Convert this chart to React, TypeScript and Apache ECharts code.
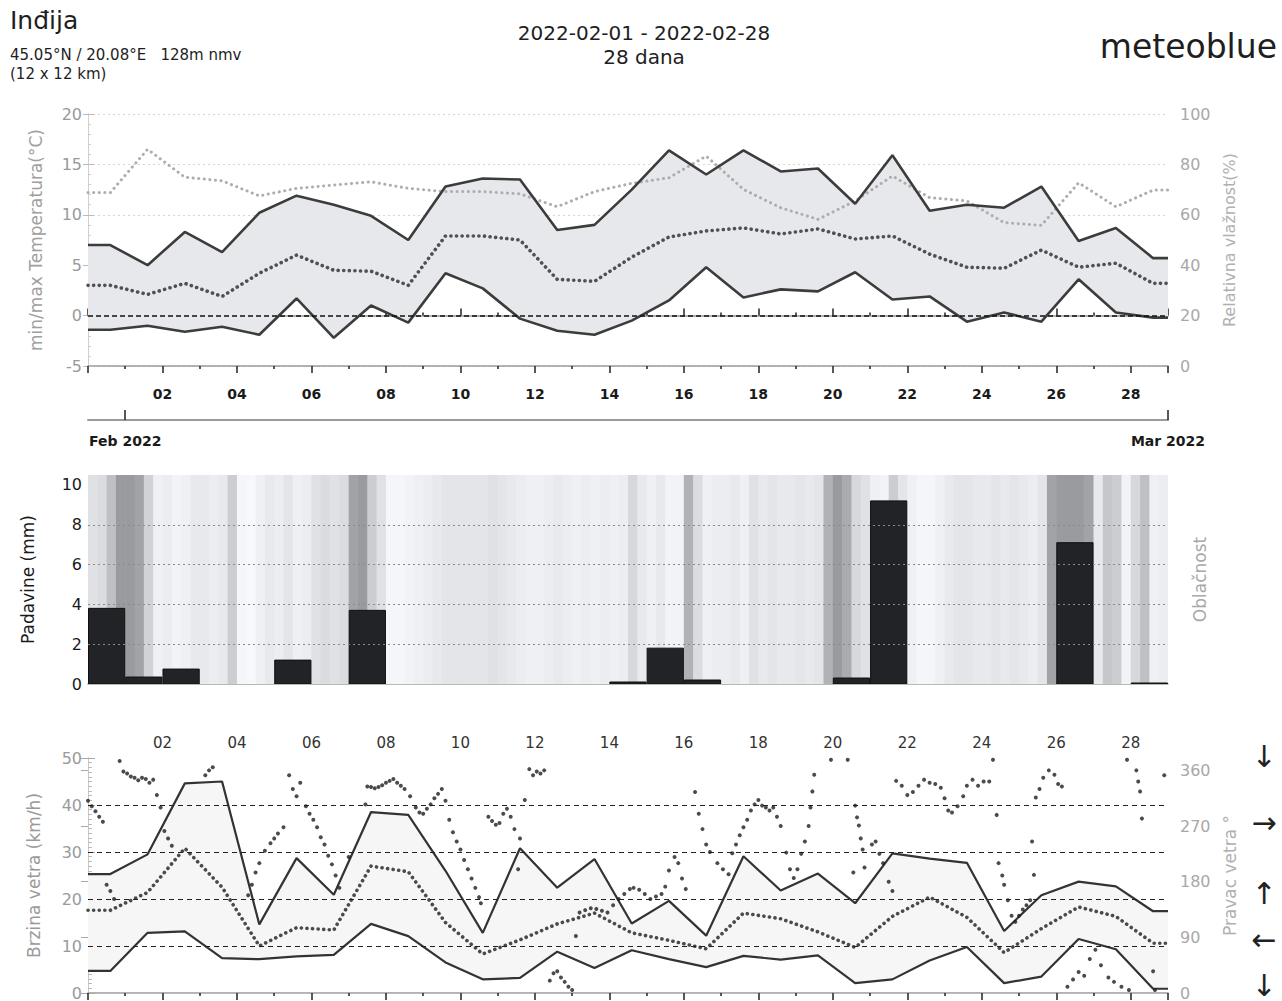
import React, { useEffect, useRef } from "react";
import * as echarts from "echarts";

// ---------- DATA ----------
// daily samples, index k = 0..28 ; drawn at day k + SAMPLE_OFFSET on a 0..29 day axis
const SAMPLE_OFFSET = 0.6;
const X_MIN = 0;
const X_MAX = 29;
const dayLabels = ["02","04","06","08","10","12","14","16","18","20","22","24","26","28"];

const tempMax = [7.0, 5.0, 8.3, 6.3, 10.2, 11.9, 11.0, 9.9, 7.5, 12.8, 13.6, 13.5, 8.5, 9.0, 12.5, 16.4, 14.0, 16.4, 14.3, 14.6, 11.1, 15.9, 10.4, 11.0, 10.7, 12.8, 7.4, 8.7, 5.7];
const tempMin = [-1.4, -1.0, -1.6, -1.1, -1.9, 1.7, -2.2, 1.0, -0.7, 4.2, 2.7, -0.3, -1.5, -1.9, -0.5, 1.5, 4.8, 1.8, 2.6, 2.4, 4.3, 1.6, 1.9, -0.6, 0.3, -0.6, 3.6, 0.3, -0.2];
const tempMean = [3.0, 2.1, 3.2, 1.9, 4.2, 6.0, 4.5, 4.4, 3.0, 7.9, 7.9, 7.5, 3.6, 3.4, 5.8, 7.8, 8.4, 8.7, 8.1, 8.6, 7.6, 7.9, 6.1, 4.8, 4.7, 6.5, 4.8, 5.2, 3.2];
const humidity = [68.8, 86.0, 74.9, 73.5, 67.5, 70.5, 71.8, 73.1, 70.5, 69.2, 69.2, 68.3, 63.2, 69.2, 72.5, 74.7, 83.3, 70.1, 62.8, 58.2, 65.5, 75.4, 66.8, 65.5, 56.9, 55.8, 72.7, 63.2, 69.8];

// precipitation per day (bar k spans day k .. k+1), mm
const precipitation = [3.8, 0.35, 0.75, 0, 0, 1.2, 0, 3.7, 0, 0, 0, 0, 0, 0, 0.1, 1.8, 0.2, 0, 0, 0, 0.3, 9.2, 0, 0, 0, 0, 7.1, 0, 0.05];

// cloud cover %, four 6-hour slots per day (day 0 .. 28)
const cloudCover = [
  40, 45, 70, 95,   95, 90, 55, 20,   25, 15, 20, 30,   30, 25, 30, 60,
  10, 5, 20, 30,    25, 35, 20, 25,   40, 45, 40, 45,   90, 95, 60, 40,
  10, 10, 15, 20,   25, 30, 35, 35,   35, 35, 35, 40,   35, 30, 25, 20,
  20, 25, 30, 25,   20, 25, 20, 25,   20, 25, 50, 30,   20, 30, 15, 15,
  80, 45, 20, 25,   25, 30, 20, 40,   30, 35, 30, 30,   35, 30, 35, 80,
  95, 85, 50, 40,   20, 15, 60, 35,   20, 10, 10, 20,   30, 35, 35, 30,
  30, 35, 30, 35,   30, 25, 35, 90,   95, 95, 95, 90,   30, 65, 60, 15,
  50, 70, 20, 25,
];

const windMax = [25.3, 29.5, 44.6, 45.0, 14.6, 28.7, 20.9, 38.5, 37.9, 26.0, 12.8, 30.8, 22.4, 28.5, 14.8, 19.6, 12.2, 29.1, 21.8, 25.4, 19.1, 29.7, 28.6, 27.7, 13.2, 20.8, 23.7, 22.7, 17.4];
const windMin = [4.7, 12.8, 13.1, 7.4, 7.2, 7.8, 8.1, 14.7, 12.1, 6.5, 2.9, 3.2, 8.8, 5.3, 9.1, 7.2, 5.5, 7.9, 7.1, 8.0, 2.1, 2.9, 6.9, 9.8, 2.1, 3.5, 11.5, 9.3, 0.9];
const windMean = [17.6, 21.4, 30.8, 22.5, 10.0, 13.9, 13.4, 27.0, 25.8, 15.0, 8.3, 11.3, 14.7, 17.0, 12.8, 11.2, 9.4, 17.0, 15.8, 13.0, 9.7, 16.3, 20.4, 16.1, 8.6, 13.7, 18.3, 16.3, 10.6];

// wind direction observations [day, degrees]
const windDirObs = [
  [0.0,311],[0.1,302],[0.2,294],[0.3,285],[0.4,277],
  [0.5,175],[0.6,165],[0.7,152],
  [0.85,375],[0.95,358],[1.05,355],[1.15,350],[1.25,348],[1.35,344],[1.45,348],[1.55,346],[1.65,340],[1.75,345],
  [1.85,320],[1.95,300],[2.05,262],[2.15,250],[2.25,238],
  [3.15,352],[3.25,360],[3.35,365],
  [4.3,158],[4.4,175],[4.5,195],[4.6,210],[4.75,230],[4.9,242],[5.0,250],[5.1,258],[5.25,268],
  [5.4,352],[5.5,330],[5.6,318],[5.7,340],
  [5.85,302],[5.95,290],[6.05,280],[6.15,268],[6.25,252],[6.35,240],[6.45,222],[6.55,208],[6.65,190],[6.75,170],
  [7.0,220],
  [7.45,305],[7.5,334],[7.6,333],[7.7,331],[7.8,333],[7.9,336],[8.0,340],[8.1,343],[8.2,346],[8.3,340],[8.4,335],[8.5,330],
  [8.65,318],[8.8,300],[8.9,292],[9.0,290],[9.1,298],[9.2,305],[9.3,315],[9.4,322],[9.5,330],[9.6,311],
  [9.7,280],[9.8,260],[9.9,245],[10.0,232],[10.1,215],[10.2,200],[10.3,185],[10.4,170],[10.5,155],[10.55,145],
  [10.75,285],[10.85,278],[10.95,272],[11.05,275],[11.15,290],[11.25,298],[11.35,285],[11.45,265],
  [11.55,200],[11.6,250],[11.73,312],
  [11.85,362],[11.95,352],[12.05,358],[12.15,355],[12.25,360],
  [12.4,20],[12.5,32],[12.6,35],[12.7,25],[12.8,18],[12.9,10],[13.0,5],
  [13.1,92],
  [13.2,130],[13.35,134],[13.5,137],[13.65,136],[13.8,133],[13.95,130],
  [14.1,142],[14.25,152],[14.4,160],[14.55,168],
  [14.65,170],[14.8,167],[14.95,160],[15.1,152],[15.25,156],
  [15.4,160],[15.5,172],[15.6,198],[15.75,220],[15.85,210],[15.95,185],[16.05,168],
  [16.3,325],[16.4,290],[16.5,265],[16.6,240],[16.7,228],
  [16.9,210],[17.05,200],[17.2,192],
  [17.3,226],[17.4,240],[17.5,255],[17.6,268],[17.7,280],[17.8,295],[17.9,305],[18.0,312],
  [18.1,303],[18.2,300],[18.3,295],[18.4,300],[18.5,285],[18.6,270],
  [18.75,227],[18.85,200],[18.95,186],[19.05,200],[19.15,225],[19.25,245],[19.35,270],
  [19.4,300],[19.45,326],[19.5,353],[19.95,377],[20.4,377],
  [20.55,195],[20.6,303],[20.65,284],[20.7,271],[20.75,250],[20.8,232],[20.85,203],
  [21.05,240],[21.15,245],[21.25,225],[21.35,210],[21.5,180],[21.6,165],
  [21.7,343],[21.85,335],[22.0,320],[22.15,325],[22.3,335],[22.45,345],[22.6,340],[22.75,338],[22.9,332],[23.0,315],
  [23.1,295],[23.2,292],[23.35,302],[23.5,318],[23.6,335],[23.75,345],[23.9,335],[24.05,342],[24.2,342],[24.3,377],
  [24.4,288],[24.45,210],[24.55,190],[24.6,175],[24.7,150],[24.8,125],
  [24.9,115],[25.0,125],[25.1,135],[25.2,142],[25.3,150],
  [25.35,245],[25.4,191],
  [25.45,316],[25.55,330],[25.65,348],[25.8,360],[25.95,353],[26.05,338],[26.15,334],
  [26.3,10],[26.45,22],[26.6,34],[26.75,28],[26.9,55],[27.05,70],[27.2,45],[27.4,25],[27.55,18],[27.75,10],[27.95,5],
  [27.9,377],[28.15,360],[28.2,342],[28.25,326],[28.3,282],
  [28.6,35],[28.65,5],
  [28.9,352],
];

// compass arrows drawn beside the direction axis: [degrees, glyph]
const compassArrows: [number, string][] = [[360, "↓"], [270, "→"], [180, "↑"], [90, "←"], [0, "↓"]];

// ---------- helpers ----------
const sampleX = tempMax.map((_, k) => k + SAMPLE_OFFSET);
const edgeX = [X_MIN, ...sampleX, X_MAX];
const ext = (a: number[]) => [a[0], ...a, a[a.length - 1]];
const pairs = (a: number[]) => ext(a).map((v, i) => [edgeX[i], v]);

const FONT = "'DejaVu Sans', 'Liberation Sans', sans-serif";
const DOTS = [0.1, 5.5];

function bandItem(lo: number[], hi: number[], fill: string) {
  const L = ext(lo);
  const H = ext(hi);
  return (params: any, api: any) => {
    if (params.dataIndex !== 0) return null;
    const pts: number[][] = [];
    for (let i = 0; i < edgeX.length; i++) pts.push(api.coord([edgeX[i], H[i]]));
    for (let i = edgeX.length - 1; i >= 0; i--) pts.push(api.coord([edgeX[i], L[i]]));
    return { type: "polygon", shape: { points: pts }, style: { fill } };
  };
}

function cloudColor(c: number) {
  const g = Math.round(250 - 0.35 * c - 0.0068 * c * c);
  return `rgb(${g - 2},${g},${g + 3})`;
}

const dayTickAxis = (gridIndex: number, position: string, showLabels: boolean, margin: number, bold: boolean) => ({
  type: "value",
  gridIndex,
  position,
  min: X_MIN,
  max: X_MAX,
  interval: 2,
  axisLine: { show: true, lineStyle: { color: "#9a9a9a", width: 1.5 } },
  axisTick: { show: true, inside: true, length: 7, lineStyle: { color: "#222", width: 1.5 } },
  minorTick: { show: true, splitNumber: 2, length: 3, lineStyle: { color: "#222", width: 1.5 } },
  splitLine: { show: false },
  axisLabel: {
    show: showLabels,
    margin,
    color: bold ? "#1a1a1a" : "#333",
    fontSize: bold ? 14 : 15,
    fontWeight: bold ? "bold" : "normal",
    fontFamily: FONT,
    formatter: (v: number) => {
      const i = v / 2 - 1;
      return Number.isInteger(i) && i >= 0 && i < dayLabels.length ? dayLabels[i] : "";
    },
  },
});

export default function App() {
  const ref = useRef<HTMLDivElement>(null);

  useEffect(() => {
    if (!ref.current) return;
    const chart = echarts.init(ref.current, null, { renderer: "svg" });

    const option: any = {
      animation: false,
      backgroundColor: "#ffffff",
      textStyle: { fontFamily: FONT },
      grid: [
        { left: 88, top: 114, width: 1080, height: 252 },
        { left: 88, top: 475, width: 1080, height: 209 },
        { left: 88, top: 758, width: 1080, height: 242 },
      ],
      xAxis: [
        dayTickAxis(0, "bottom", true, 21, true),
        dayTickAxis(0, "top", false, 8, true),
        {
          type: "value",
          gridIndex: 0,
          position: "bottom",
          offset: 54,
          min: X_MIN,
          max: X_MAX,
          axisLine: { show: true, lineStyle: { color: "#9a9a9a", width: 2 } },
          axisTick: { show: true, inside: true, length: 10, customValues: [1, 29], lineStyle: { color: "#222", width: 1.5 } },
          splitLine: { show: false },
          axisLabel: {
            show: true,
            customValues: [1, 29],
            margin: 14,
            color: "#1a1a1a",
            fontSize: 14,
            fontWeight: "bold",
            fontFamily: FONT,
            formatter: (v: number) => (v === 1 ? "Feb 2022" : v === 29 ? "Mar 2022" : ""),
          },
        },
        {
          type: "value",
          gridIndex: 1,
          position: "bottom",
          min: X_MIN,
          max: X_MAX,
          axisLine: { show: true, lineStyle: { color: "#a0a0a0", width: 1.5 } },
          axisTick: { show: false },
          axisLabel: { show: false },
          splitLine: { show: false },
        },
        dayTickAxis(2, "top", true, 8, false),
        {
          type: "value",
          gridIndex: 2,
          position: "bottom",
          min: X_MIN,
          max: X_MAX,
          axisLine: { show: true, lineStyle: { color: "#bbb" } },
          axisTick: { show: false },
          axisLabel: { show: false },
          splitLine: { show: false },
        },
      ],
      yAxis: [
        {
          type: "value",
          gridIndex: 0,
          position: "left",
          min: -5,
          max: 20,
          interval: 5,
          name: "min/max Temperatura(°C)",
          nameLocation: "middle",
          nameRotate: 90,
          nameGap: 44,
          nameTextStyle: { color: "#a0a0a0", fontSize: 17, fontFamily: FONT },
          axisLine: { show: true, lineStyle: { color: "#d0d0d0" } },
          axisTick: { show: true, inside: true, length: 6, lineStyle: { color: "#bbb" } },
          minorTick: { show: true, splitNumber: 5, length: 3, lineStyle: { color: "#ccc" } },
          splitLine: { show: true, lineStyle: { color: "#d6d6d6", type: [2, 3] } },
          axisLabel: { color: "#9a9a9a", fontSize: 16, margin: 6, fontFamily: FONT },
        },
        {
          type: "value",
          gridIndex: 0,
          position: "right",
          min: 0,
          max: 100,
          interval: 20,
          name: "Relativna vlažnost(%)",
          nameLocation: "middle",
          nameRotate: 90,
          nameGap: 51,
          nameTextStyle: { color: "#b0b0b0", fontSize: 16, fontFamily: FONT },
          axisLine: { show: true, lineStyle: { color: "#d0d0d0" } },
          axisTick: { show: true, inside: true, length: 5, lineStyle: { color: "#bbb" } },
          splitLine: { show: false },
          axisLabel: { color: "#a8a8a8", fontSize: 16, margin: 12, fontFamily: FONT },
        },
        {
          type: "value",
          gridIndex: 1,
          position: "left",
          min: 0,
          max: 10.5,
          interval: 2,
          name: "Padavine (mm)",
          nameLocation: "middle",
          nameRotate: 90,
          nameGap: 52,
          nameTextStyle: { color: "#1a1a1a", fontSize: 17, fontFamily: FONT },
          axisLine: { show: false },
          axisTick: { show: true, inside: true, length: 6, lineStyle: { color: "#bbb" } },
          minorTick: { show: true, splitNumber: 4, length: 3, lineStyle: { color: "#ccc" } },
          splitLine: { show: false },
          axisLabel: {
            color: "#1a1a1a",
            fontSize: 16,
            margin: 6,
            fontFamily: FONT,
            formatter: (v: number) => (Number.isInteger(v) ? String(v) : ""),
          },
        },
        {
          type: "value",
          gridIndex: 1,
          position: "right",
          min: 0,
          max: 1,
          name: "Oblačnost",
          nameLocation: "middle",
          nameRotate: 90,
          nameGap: 23,
          nameTextStyle: { color: "#a8a8a8", fontSize: 17, fontFamily: FONT },
          axisLine: { show: false },
          axisTick: { show: false },
          axisLabel: { show: false },
          splitLine: { show: false },
        },
        {
          type: "value",
          gridIndex: 2,
          position: "left",
          min: 0,
          max: 50,
          interval: 10,
          name: "Brzina vetra (km/h)",
          nameLocation: "middle",
          nameRotate: 90,
          nameGap: 46,
          nameTextStyle: { color: "#9a9a9a", fontSize: 17, fontFamily: FONT },
          axisLine: { show: true, lineStyle: { color: "#c8c8c8" } },
          axisTick: { show: true, inside: true, length: 7, lineStyle: { color: "#aaa" } },
          minorTick: { show: true, splitNumber: 10, length: 4, lineStyle: { color: "#b8b8b8" } },
          splitLine: { show: false },
          axisLabel: { color: "#9a9a9a", fontSize: 16, margin: 6, fontFamily: FONT },
        },
        {
          type: "value",
          gridIndex: 2,
          position: "right",
          min: 0,
          max: 380,
          interval: 90,
          name: "Pravac vetra °",
          nameLocation: "middle",
          nameRotate: 90,
          nameGap: 46,
          nameTextStyle: { color: "#b0b0b0", fontSize: 17, fontFamily: FONT },
          axisLine: { show: true, lineStyle: { color: "#c8c8c8" } },
          axisTick: { show: true, inside: true, length: 7, lineStyle: { color: "#aaa" } },
          splitLine: { show: false },
          axisLabel: {
            color: "#a8a8a8",
            fontSize: 16,
            margin: 12,
            fontFamily: FONT,
            formatter: (v: number) => (v % 90 === 0 ? String(v) : ""),
          },
        },
      ],
      series: [
        // cloud cover stripes
        {
          type: "custom",
          xAxisIndex: 3,
          yAxisIndex: 2,
          clip: true,
          silent: true,
          z: 1,
          data: cloudCover.map((c, i) => [i * 0.25, c]),
          renderItem: (params: any, api: any) => {
            const t = api.value(0);
            const c = api.value(1);
            const p0 = api.coord([t, 10.5]);
            const p1 = api.coord([t + 0.25, 0]);
            return {
              type: "rect",
              shape: { x: p0[0], y: p0[1], width: p1[0] - p0[0] + 0.6, height: p1[1] - p0[1] },
              style: { fill: cloudColor(c) },
            };
          },
        },
        // precipitation grid lines
        {
          type: "line",
          xAxisIndex: 3,
          yAxisIndex: 2,
          data: [],
          z: 2,
          markLine: {
            silent: true,
            symbol: "none",
            label: { show: false },
            lineStyle: { color: "#8a8a8a", type: [2, 3], width: 1.2 },
            data: [{ yAxis: 2 }, { yAxis: 4 }, { yAxis: 6 }, { yAxis: 8 }],
          },
        },
        // precipitation bars
        {
          type: "custom",
          name: "Padavine",
          xAxisIndex: 3,
          yAxisIndex: 2,
          clip: true,
          z: 3,
          data: precipitation.map((v, k) => [k, v]),
          renderItem: (params: any, api: any) => {
            const k = api.value(0);
            const v = api.value(1);
            if (!v) return null;
            const p0 = api.coord([k, v]);
            const p1 = api.coord([k + 1, 0]);
            return {
              type: "rect",
              shape: { x: p0[0] + 0.5, y: p0[1], width: p1[0] - p0[0] - 1, height: p1[1] - p0[1] },
              style: { fill: "#222326", stroke: "#111", lineWidth: 1 },
            };
          },
        },
        // temperature band
        {
          type: "custom",
          xAxisIndex: 0,
          yAxisIndex: 0,
          clip: true,
          silent: true,
          z: 1,
          data: sampleX.map((x, i) => [x, tempMin[i], tempMax[i]]),
          renderItem: bandItem(tempMin, tempMax, "#e6e8ec"),
        },
        {
          type: "line",
          name: "Relativna vlažnost",
          xAxisIndex: 0,
          yAxisIndex: 1,
          data: pairs(humidity),
          showSymbol: false,
          z: 2,
          lineStyle: { color: "#adadad", width: 3, type: DOTS, cap: "round" },
        },
        {
          type: "line",
          name: "Temperatura max",
          xAxisIndex: 0,
          yAxisIndex: 0,
          data: pairs(tempMax),
          showSymbol: false,
          z: 4,
          lineStyle: { color: "#3c3c3c", width: 2.6 },
        },
        {
          type: "line",
          name: "Temperatura min",
          xAxisIndex: 0,
          yAxisIndex: 0,
          data: pairs(tempMin),
          showSymbol: false,
          z: 4,
          lineStyle: { color: "#3c3c3c", width: 2.6 },
        },
        {
          type: "line",
          name: "Temperatura srednja",
          xAxisIndex: 0,
          yAxisIndex: 0,
          data: pairs(tempMean),
          showSymbol: false,
          z: 3,
          lineStyle: { color: "#505050", width: 3.6, type: DOTS, cap: "round" },
          markLine: {
            silent: true,
            symbol: "none",
            label: { show: false },
            lineStyle: { color: "#111", type: [5, 3], width: 1.6 },
            data: [{ yAxis: 0 }],
          },
        },
        // wind band
        {
          type: "custom",
          xAxisIndex: 4,
          yAxisIndex: 4,
          clip: true,
          silent: true,
          z: 1,
          data: sampleX.map((x, i) => [x, windMin[i], windMax[i]]),
          renderItem: bandItem(windMin, windMax, "#f6f6f7"),
        },
        {
          type: "line",
          name: "Brzina vetra max",
          xAxisIndex: 4,
          yAxisIndex: 4,
          data: pairs(windMax),
          showSymbol: false,
          z: 4,
          lineStyle: { color: "#333", width: 2.2 },
          markLine: {
            silent: true,
            symbol: "none",
            label: { show: false },
            lineStyle: { color: "#222", type: [5, 4], width: 1.2 },
            data: [{ yAxis: 10 }, { yAxis: 20 }, { yAxis: 30 }, { yAxis: 40 }],
          },
        },
        {
          type: "line",
          name: "Brzina vetra min",
          xAxisIndex: 4,
          yAxisIndex: 4,
          data: pairs(windMin),
          showSymbol: false,
          z: 4,
          lineStyle: { color: "#333", width: 2.2 },
        },
        {
          type: "line",
          name: "Brzina vetra srednja",
          xAxisIndex: 4,
          yAxisIndex: 4,
          data: pairs(windMean),
          showSymbol: false,
          z: 3,
          lineStyle: { color: "#4a4a4a", width: 3.6, type: DOTS, cap: "round" },
        },
        {
          type: "scatter",
          name: "Pravac vetra",
          xAxisIndex: 4,
          yAxisIndex: 5,
          data: windDirObs,
          symbol: "circle",
          symbolSize: 4,
          z: 5,
          itemStyle: { color: "#1e1e1e" },
        },
      ],
      graphic: [
        { type: "text", left: 10, top: 8, style: { text: "Inđija", fontSize: 25, fontFamily: FONT, fill: "#1e1e1e" } },
        { type: "text", left: 10, top: 47, style: { text: "45.05°N / 20.08°E   128m nmv", fontSize: 15, fontFamily: FONT, fill: "#1e1e1e" } },
        { type: "text", left: 10, top: 66, style: { text: "(12 x 12 km)", fontSize: 15, fontFamily: FONT, fill: "#1e1e1e" } },
        { type: "text", x: 644, y: 33, style: { text: "2022-02-01 - 2022-02-28", fontSize: 20, fontFamily: FONT, fill: "#1e1e1e", align: "center", verticalAlign: "middle" } },
        { type: "text", x: 644, y: 57, style: { text: "28 dana", fontSize: 20, fontFamily: FONT, fill: "#1e1e1e", align: "center", verticalAlign: "middle" } },
        { type: "text", x: 1277, y: 46, style: { text: "meteoblue", fontSize: 33, fontFamily: FONT, fill: "#1e1e1e", align: "right", verticalAlign: "middle" } },
      ],
    };

    chart.setOption(option);

    // compass arrows placed next to their direction values on the right axis
    const nudge: Record<number, number> = { 360: -14, 270: -4, 180: 12, 90: 2, 0: -8 };
    const arrowGraphics = compassArrows.map(([deg, glyph]) => {
      const y = chart.convertToPixel({ yAxisIndex: 5 }, deg) as number;
      return {
        type: "text",
        x: 1264,
        y: y + (nudge[deg] || 0),
        style: { text: glyph, fontSize: 30, fontFamily: FONT, fill: "#222", align: "center", verticalAlign: "middle" },
      };
    });
    chart.setOption({ graphic: [...option.graphic, ...arrowGraphics] });

    return () => chart.dispose();
  }, []);

  return (
    <div
      ref={ref}
      style={{ position: "absolute", left: 0, top: 0, width: 1282, height: 1001, background: "#fff" }}
    />
  );
}
